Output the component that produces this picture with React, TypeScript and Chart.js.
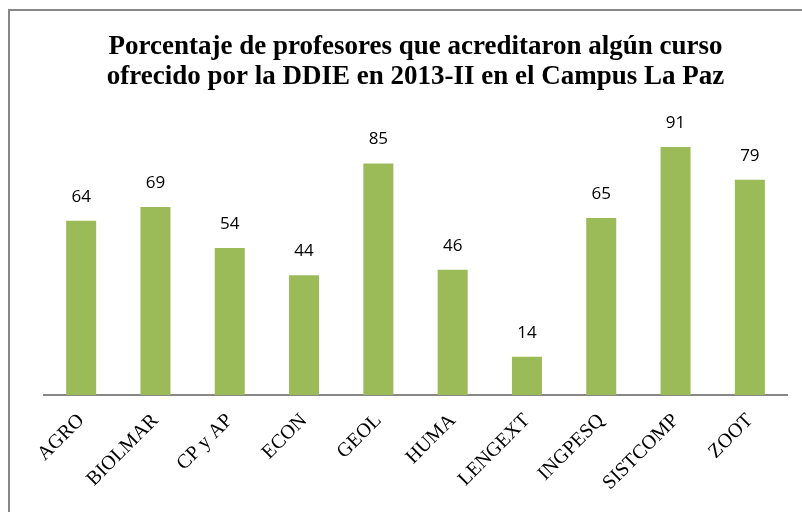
import React, { useEffect, useRef } from "react";
import { Chart, registerables } from "chart.js";

Chart.register(...registerables);

const categories = ["AGRO", "BIOLMAR", "CP y AP", "ECON", "GEOL", "HUMA", "LENGEXT", "INGPESQ", "SISTCOMP", "ZOOT"];
const values = [64, 69, 54, 44, 85, 46, 14, 65, 91, 79];
const titleLines = [
  "Porcentaje de profesores que acreditaron algún curso",
  "ofrecido por la DDIE en 2013-II en el Campus La Paz",
];
const yMin = 0;
const yMax = 100;

const valueLabels = {
  id: "valueLabels",
  afterDatasetsDraw(chart: any) {
    const ctx = chart.ctx;
    const meta = chart.getDatasetMeta(0);
    ctx.save();
    ctx.font = "17px 'Open Sans', sans-serif";
    ctx.fillStyle = "#000";
    ctx.textAlign = "center";
    ctx.textBaseline = "middle";
    meta.data.forEach((bar: any, i: number) => {
      ctx.fillText(String(chart.data.datasets[0].data[i]), bar.x, bar.y - 24);
    });
    ctx.restore();
  },
};

export default function App() {
  const ref = useRef<HTMLCanvasElement | null>(null);
  useEffect(() => {
    if (!ref.current) return;
    const chart = new Chart(ref.current, {
      type: "bar",
      data: {
        labels: categories,
        datasets: [
          {
            data: values,
            backgroundColor: "#9BBB59",
            borderWidth: 0,
            barPercentage: 0.404,
            categoryPercentage: 1,
          },
        ],
      },
      options: {
        responsive: false,
        animation: false,
        devicePixelRatio: 1,
        layout: { padding: { left: 34, right: 15, top: 0, bottom: 0 } },
        plugins: {
          legend: { display: false },
          tooltip: { enabled: false },
          title: {
            display: true,
            text: titleLines,
            color: "#000",
            font: { family: "'Liberation Serif', serif", size: 27, weight: "bold", lineHeight: 1.1 },
            padding: { top: 21, bottom: 31.2 },
          },
        },
        scales: {
          x: {
            grid: { display: false, drawTicks: false },
            border: { color: "#878787", width: 2 },
            ticks: {
              autoSkip: false,
              minRotation: 45,
              maxRotation: 45,
              padding: 14,
              color: "#000",
              font: { family: "'Liberation Serif', serif", size: 20 },
            },
            afterFit: (scale: any) => {
              scale.height = 117;
            },
          },
          y: {
            display: false,
            min: yMin,
            max: yMax,
          },
        },
      },
      plugins: [valueLabels],
    });
    return () => chart.destroy();
  }, []);
  return (
    <div
      style={{
        position: "absolute",
        left: 8,
        top: 9,
        width: 794,
        height: 503,
        borderLeft: "2px solid #878787",
        borderTop: "2px solid #878787",
        overflow: "hidden",
        background: "#fff",
      }}
    >
      <canvas ref={ref} width={792} height={501} style={{ display: "block", width: 792, height: 501 }} />
    </div>
  );
}
